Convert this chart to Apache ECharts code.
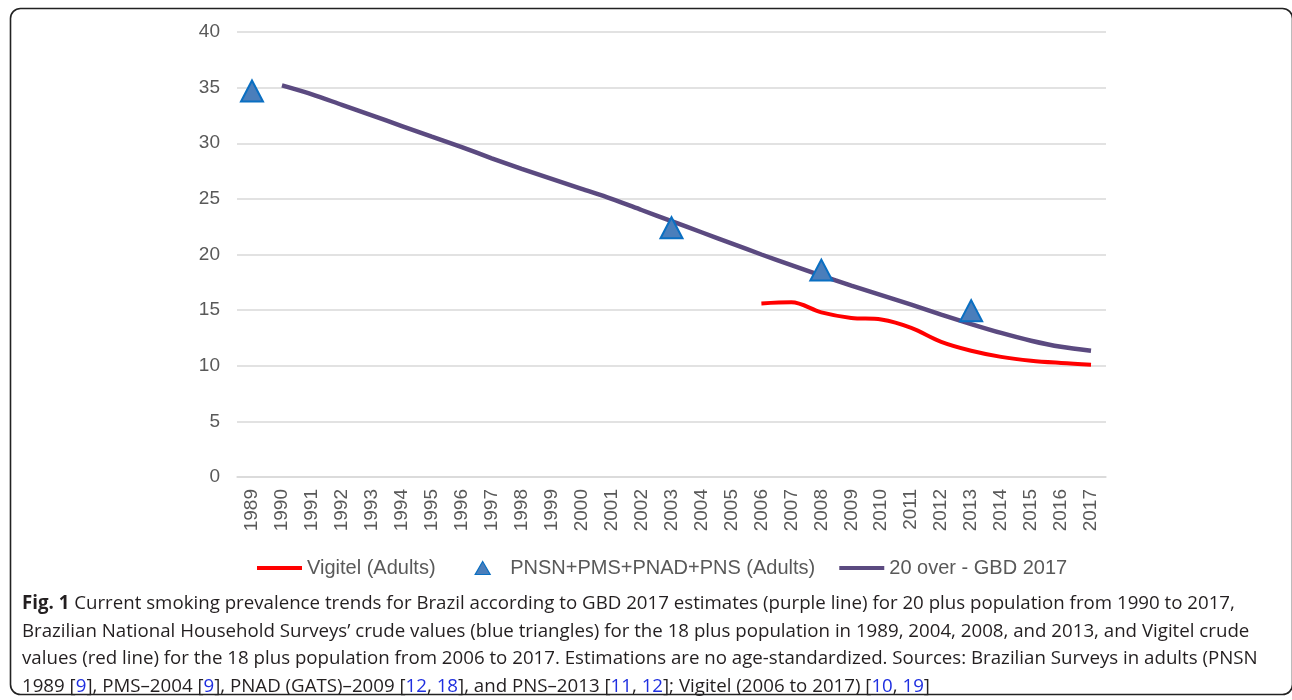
<!DOCTYPE html>
<html>
<head>
<meta charset="utf-8">
<script src="https://cdn.jsdelivr.net/npm/echarts@6/dist/echarts.min.js"></script>
<style>
html,body{margin:0;padding:0;background:#fff;}
#c{width:1292px;height:700px;}
</style>
</head>
<body>
<div id="c"></div>
<script>
var years = ['1989','1990','1991','1992','1993','1994','1995','1996','1997','1998','1999','2000','2001','2002','2003','2004','2005','2006','2007','2008','2009','2010','2011','2012','2013','2014','2015','2016','2017'];
var vigitelYears = ['2006','2007','2008','2009','2010','2011','2012','2013','2014','2015','2016','2017'];
var vigitelValues = [15.6, 15.7, 14.8, 14.3, 14.15, 13.4, 12.15, 11.35, 10.8, 10.45, 10.25, 10.1];
var surveyYears = ['1989','2003','2008','2013'];
var surveyValues = [34.7, 22.4, 18.6, 14.95];
var gbdYears = ['1990','1991','1992','1993','1994','1995','1996','1997','1998','1999','2000','2001','2002','2003','2004','2005','2006','2007','2008','2009','2010','2011','2012','2013','2014','2015','2016','2017'];
var gbdValues = [35.2, 34.4, 33.45, 32.5, 31.55, 30.6, 29.65, 28.65, 27.7, 26.8, 25.9, 25.0, 24.0, 23.0, 22.0, 21.0, 20.0, 19.05, 18.1, 17.2, 16.35, 15.5, 14.6, 13.75, 12.95, 12.25, 11.7, 11.35];
var yTicks = {min: 0, max: 40, interval: 5};
var seriesNames = ['Vigitel (Adults)', 'PNSN+PMS+PNAD+PNS (Adults)', '20 over - GBD 2017'];
var captionLines = [
  '{b|Fig. 1} Current smoking prevalence trends for Brazil according to GBD 2017 estimates (purple line) for 20 plus population from 1990 to 2017,',
  'Brazilian National Household Surveys\u2019 crude values (blue triangles) for the 18 plus population in 1989, 2004, 2008, and 2013, and Vigitel crude',
  'values (red line) for the 18 plus population from 2006 to 2017. Estimations are no age-standardized. Sources: Brazilian Surveys in adults (PNSN',
  '1989 [{l|9}], PMS\u20132004 [{l|9}], PNAD (GATS)\u20132009 [{l|12}, {l|18}], and PNS\u20132013 [{l|11}, {l|12}]; Vigitel (2006 to 2017) [{l|10}, {l|19}]'
];

function pairs(xs, vs){ return xs.map(function(x,i){ return [x, vs[i]]; }); }

var chart = echarts.init(document.getElementById('c'), null, {renderer:'canvas'});
var fontFam = 'Liberation Sans, Arial, sans-serif';
var capSize = 18.7;
var lineIcon = 'path://M0,0 L45,0 L45,4 L0,4 Z';
var triIcon = 'path://M0,0 L0.01,0 Z M22.5,0 L30,13 L15,13 Z M45,13 L44.99,13 Z';
chart.setOption({
  animation: false,
  backgroundColor: '#fff',
  graphic: [{
    type: 'rect', z: 100, silent: true,
    shape: {x: 10.5, y: 8.5, width: 1282, height: 686, r: 10},
    style: {fill: 'none', stroke: '#222', lineWidth: 1.6}
  }],
  title: {
    left: 17, top: 585,
    text: captionLines.join('\n'),
    textStyle: {
      fontFamily: 'Open Sans', fontSize: capSize, fontWeight: 'normal', color: '#231f20', lineHeight: 27.5,
      rich: {
        b: {fontFamily: 'Open Sans', fontWeight: 'bold', fontSize: capSize, color: '#231f20', lineHeight: 27.5},
        l: {fontFamily: 'Open Sans', fontSize: capSize, color: '#1f2fe0', lineHeight: 27.5}
      }
    }
  },
  legend: {
    left: 257, top: 558, padding: 0,
    itemWidth: 45, itemHeight: 14, itemGap: 24,
    symbolKeepAspect: true,
    data: [
      {name: seriesNames[0], icon: lineIcon, itemStyle: {color: '#ff0000', borderWidth: 0}},
      {name: seriesNames[1], icon: triIcon, itemStyle: {color: '#4a7ebb', borderColor: '#0a6fc2', borderWidth: 1.2}},
      {name: seriesNames[2], icon: lineIcon, itemStyle: {color: '#5b4a80', borderWidth: 0}}
    ],
    textStyle: {fontFamily: fontFam, fontSize: 20, color: '#595959'}
  },
  grid: {left: 237, right: 186, top: 32, bottom: 223, containLabel: false},
  xAxis: {
    type: 'category', data: years, boundaryGap: true,
    axisLine: {lineStyle: {color: '#d9d9d9', width: 1.5}},
    axisTick: {show: false},
    axisLabel: {rotate: 90, margin: 12, color: '#595959', fontFamily: fontFam, fontSize: 19, interval: 0}
  },
  yAxis: {
    type: 'value', min: yTicks.min, max: yTicks.max, interval: yTicks.interval,
    axisLine: {show: false}, axisTick: {show: false},
    splitLine: {lineStyle: {color: '#d9d9d9', width: 1.5}},
    axisLabel: {margin: 17, color: '#595959', fontFamily: fontFam, fontSize: 19}
  },
  series: [
    {
      name: seriesNames[0], type: 'line', data: pairs(vigitelYears, vigitelValues),
      symbol: 'none', smooth: 0.35,
      lineStyle: {color: '#ff0000', width: 4}, itemStyle: {color: '#ff0000'}, z: 3
    },
    {
      name: seriesNames[1], type: 'scatter', data: pairs(surveyYears, surveyValues),
      symbol: 'triangle', symbolSize: [22, 21],
      itemStyle: {color: '#4a7ebb', borderColor: '#0a6fc2', borderWidth: 2, opacity: 1}, z: 5
    },
    {
      name: seriesNames[2], type: 'line', data: pairs(gbdYears, gbdValues),
      symbol: 'none', smooth: 0.3,
      lineStyle: {color: '#5b4a80', width: 4.5}, itemStyle: {color: '#5b4a80'}, z: 4
    }
  ]
});
</script>
</body>
</html>
